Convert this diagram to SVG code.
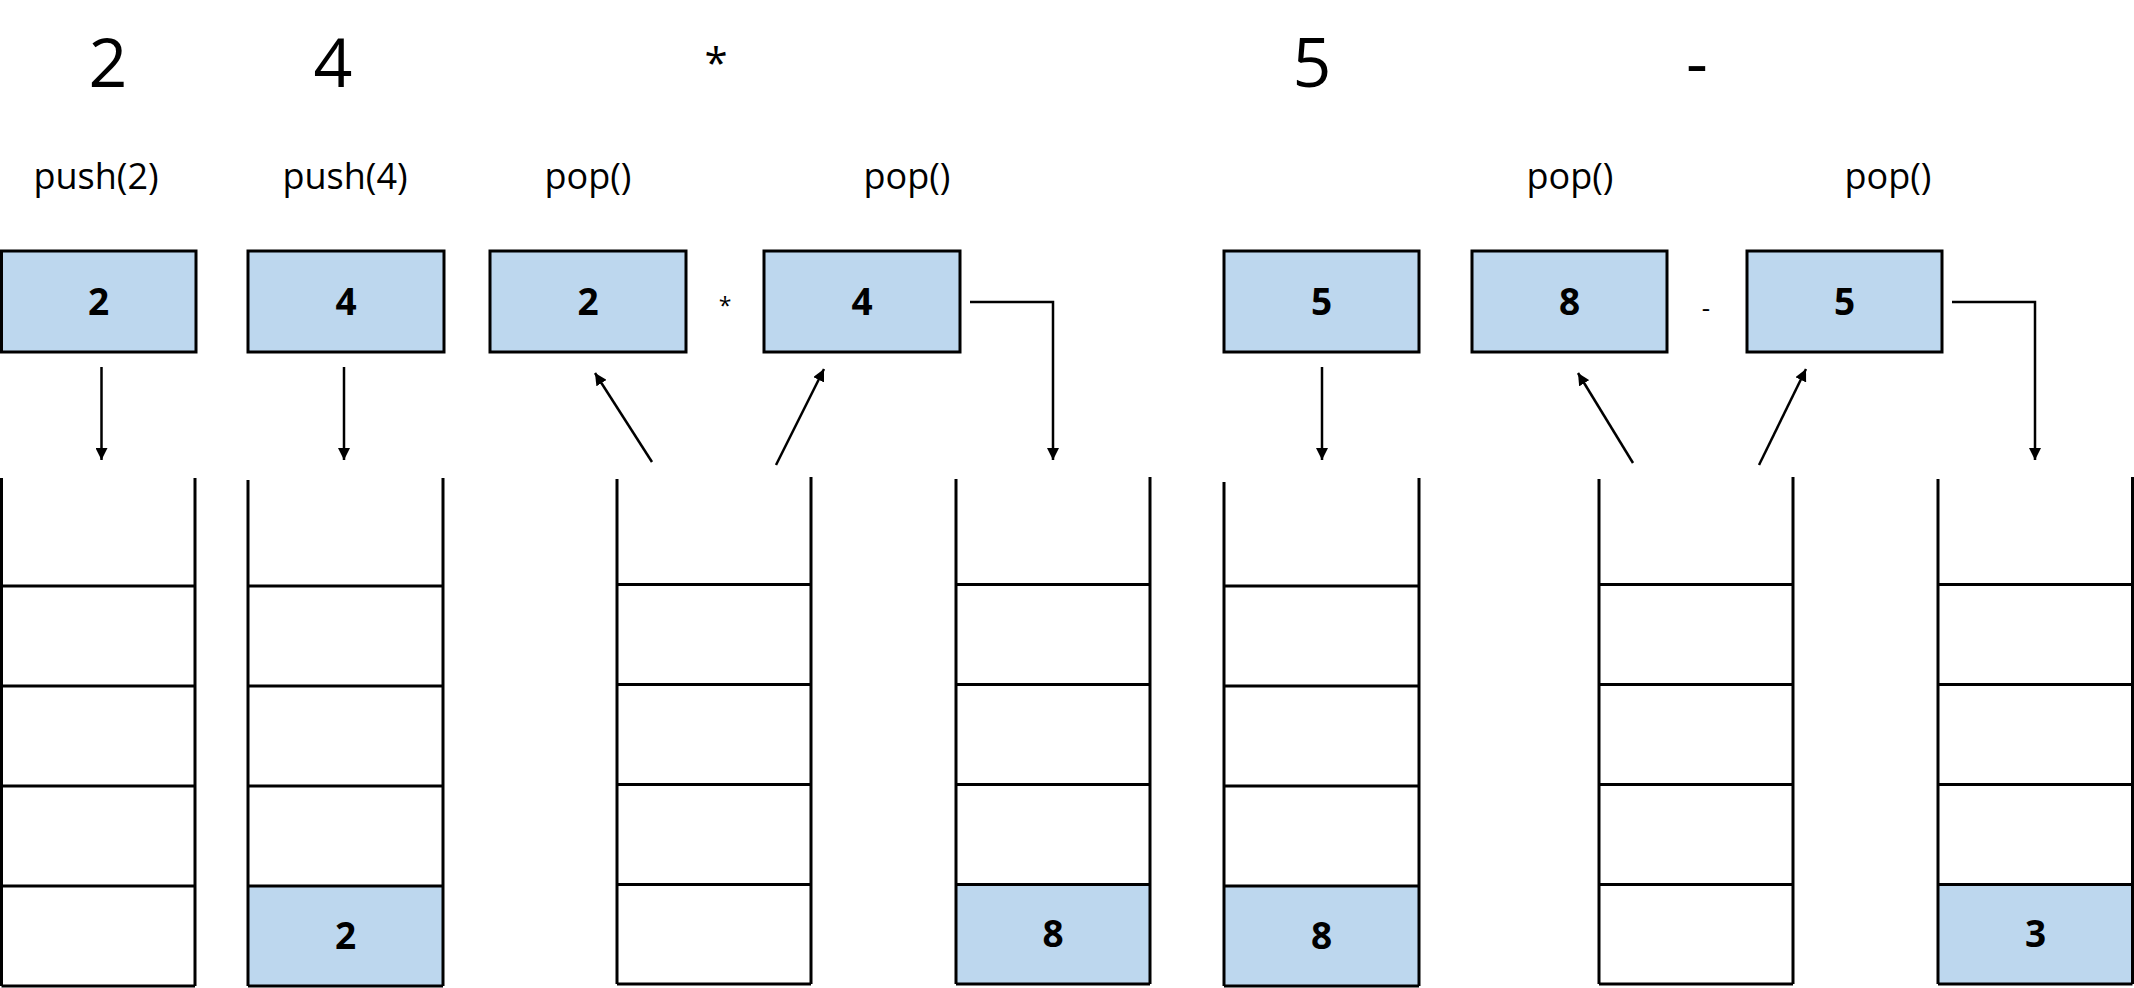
<svg xmlns="http://www.w3.org/2000/svg" width="2134" height="988" viewBox="0 0 2134 988">
<defs>
<marker id="ah" viewBox="0 0 12 12" refX="12" refY="6" markerWidth="12" markerHeight="12" markerUnits="userSpaceOnUse" orient="auto">
<path d="M0,0 L12,6 L0,12 Z" fill="#000"/>
</marker>
</defs>
<style>
.big{font-family:"Open Sans","Noto Sans",sans-serif;font-size:68px;fill:#000;text-anchor:middle}
.lbl{font-family:"Open Sans","Noto Sans",sans-serif;font-size:36px;fill:#000;text-anchor:middle}
.op{font-family:"Open Sans","Noto Sans",sans-serif;font-size:26px;fill:#000;text-anchor:middle}
.num{font-family:"Open Sans","Noto Sans",sans-serif;font-size:37px;font-weight:bold;fill:#000;text-anchor:middle}
.box{fill:#BDD7EE;stroke:#000;stroke-width:3}
.cell{fill:#BDD7EE;stroke:none}
.wall{stroke:#000;stroke-width:3;fill:none}
.conn{stroke:#000;stroke-width:2.5;fill:none;marker-end:url(#ah)}
</style>
<rect width="2134" height="988" fill="#fff"/>

<g id="tokens">
<text class="big" x="108" y="87">2</text>
<text class="big" x="333" y="87">4</text>
<text class="big" x="716" y="78" style="font-size:42px">*</text>
<text class="big" x="1312" y="87">5</text>
<text class="big" x="1697" y="87">-</text>
</g>

<g id="labels">
<text class="lbl" x="96" y="189">push(2)</text>
<text class="lbl" x="345" y="189">push(4)</text>
<text class="lbl" x="588" y="189">pop()</text>
<text class="lbl" x="907" y="189">pop()</text>
<text class="lbl" x="1570" y="189">pop()</text>
<text class="lbl" x="1888" y="189">pop()</text>
</g>

<g id="box1"><rect class="box" x="1.5" y="251" width="194.5" height="101"/><text class="num" x="98.5" y="315">2</text></g>
<g id="box2"><rect class="box" x="248" y="251" width="196" height="101"/><text class="num" x="346" y="315">4</text></g>
<g id="box3"><rect class="box" x="490" y="251" width="196" height="101"/><text class="num" x="588" y="315">2</text></g>
<g id="op-mul"><text class="op" x="725" y="314" style="font-size:23px">*</text></g>
<g id="box4"><rect class="box" x="764" y="251" width="196" height="101"/><text class="num" x="862" y="315">4</text></g>
<g id="box5"><rect class="box" x="1224" y="251" width="195" height="101"/><text class="num" x="1321.5" y="315">5</text></g>
<g id="box6"><rect class="box" x="1472" y="251" width="195" height="101"/><text class="num" x="1569.5" y="315">8</text></g>
<g id="op-sub"><text class="op" x="1706" y="317">-</text></g>
<g id="box7"><rect class="box" x="1747" y="251" width="195" height="101"/><text class="num" x="1844.5" y="315">5</text></g>

<g id="stack1">
<path class="wall" d="M1.5,478 V986 M195,478 V986 M1.5,586 H195 M1.5,686 H195 M1.5,786 H195 M1.5,886 H195 M1.5,986 H195"/>
</g>
<g id="stack2">
<rect class="cell" x="248" y="886" width="195" height="100"/>
<path class="wall" d="M248,480 V986 M443,478 V986 M248,586 H443 M248,686 H443 M248,786 H443 M248,886 H443 M248,986 H443"/>
<text class="num" x="345.5" y="949">2</text>
</g>
<g id="stack3">
<path class="wall" d="M617,479 V984 M811,477 V984 M617,584.5 H811 M617,684.5 H811 M617,784.5 H811 M617,884.5 H811 M617,984 H811"/>
</g>
<g id="stack4">
<rect class="cell" x="956" y="884.5" width="194" height="99.5"/>
<path class="wall" d="M956,479 V984 M1150,477 V984 M956,584.5 H1150 M956,684.5 H1150 M956,784.5 H1150 M956,884.5 H1150 M956,984 H1150"/>
<text class="num" x="1053" y="947">8</text>
</g>
<g id="stack5">
<rect class="cell" x="1224" y="886" width="195" height="100"/>
<path class="wall" d="M1224,482 V986 M1419,478 V986 M1224,586 H1419 M1224,686 H1419 M1224,786 H1419 M1224,886 H1419 M1224,986 H1419"/>
<text class="num" x="1321.5" y="949">8</text>
</g>
<g id="stack6">
<path class="wall" d="M1599,479 V984 M1793,477 V984 M1599,584.5 H1793 M1599,684.5 H1793 M1599,784.5 H1793 M1599,884.5 H1793 M1599,984 H1793"/>
</g>
<g id="stack7">
<rect class="cell" x="1938" y="884.5" width="195" height="99.5"/>
<path class="wall" d="M1938,479 V984 M2132.5,477 V984 M1938,584.5 H2132.5 M1938,684.5 H2132.5 M1938,784.5 H2132.5 M1938,884.5 H2132.5 M1938,984 H2132.5"/>
<text class="num" x="2035.5" y="947">3</text>
</g>

<g id="connectors">
<path class="conn" d="M101.5,367 V460"/>
<path class="conn" d="M344,367 V460"/>
<path class="conn" d="M652,462 L595,373"/>
<path class="conn" d="M776,465 L824,369"/>
<path class="conn" d="M970,302 H1053 V460"/>
<path class="conn" d="M1322,367 V460"/>
<path class="conn" d="M1633,463 L1578,373"/>
<path class="conn" d="M1759,465 L1806,369"/>
<path class="conn" d="M1952,302 H2035 V460"/>
</g>
</svg>
